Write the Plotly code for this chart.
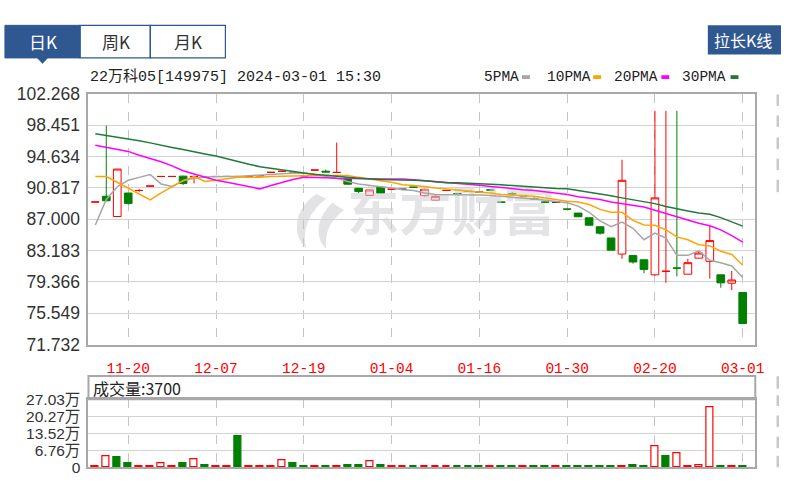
import plotly.graph_objects as go

# ---------------- data ----------------
tick_positions = [3, 11, 19, 27, 35, 43, 51, 59]
tick_labels = ["11-20", "12-07", "12-19", "01-04", "01-16", "01-30", "02-20", "03-01"]

opens = [89.1, 89.8, 87.33, 90.19, 90.5, 91.04, 92.21, 92.21, 92.25, 92.21,
         92.1, 92.21, 92.21, 92.21, 92.21, 92.3, 92.71, 92.83, 92.6, 92.3,
         92.99, 92.85, 92.7, 92.01, 90.77, 89.9, 90.89, 90.65, 90.65, 90.9,
         89.87, 89.32, 90.5, 90.1, 90.4, 90.3, 90.57, 89.08, 90.1, 89.9,
         89.5, 89.08, 89.08, 88.23, 87.75, 87.18, 86.09, 84.72, 82.76, 82.57,
         82.06, 80.23, 80.66, 81.05, 80.3, 82.26, 81.87, 80.23, 79.21, 78.08]
highs = [89.1, 98.4, 93.11, 90.2, 90.7, 91.04, 92.21, 92.21, 92.3, 92.21,
         92.1, 92.21, 92.21, 92.21, 92.21, 92.3, 92.71, 92.83, 92.6, 92.3,
         92.99, 93.05, 96.34, 92.1, 90.8, 90.6, 90.9, 90.65, 90.65, 90.9,
         90.7, 90.07, 90.5, 90.1, 90.4, 90.3, 90.57, 89.08, 90.3, 89.9,
         89.7, 89.08, 89.08, 88.23, 87.75, 87.18, 86.09, 84.72, 94.24, 82.57,
         82.06, 100.21, 100.21, 100.21, 82.18, 83.16, 86.16, 80.23, 80.7, 78.08]
lows = [89.1, 89.2, 87.33, 88.78, 90.35, 91.04, 92.21, 92.21, 91.16, 91.36,
        92.1, 92.21, 92.21, 92.21, 92.21, 92.3, 92.71, 92.83, 92.6, 92.3,
        92.99, 92.75, 92.7, 91.2, 90.2, 89.85, 90.1, 90.65, 90.65, 90.9,
        89.75, 89.3, 90.5, 90.1, 90.4, 90.3, 90.57, 89.08, 89.9, 89.85,
        89.45, 89.08, 89.08, 88.23, 87.3, 86.27, 85.1, 83.23, 82.18, 81.59,
        80.42, 80.11, 79.25, 80.03, 80.3, 82.26, 79.76, 78.66, 78.36, 74.3]
closes = [89.1, 89.25, 93.11, 88.93, 90.5, 91.04, 92.21, 92.21, 91.36, 92.21,
          92.1, 92.21, 92.21, 92.21, 92.21, 92.3, 92.71, 92.83, 92.6, 92.3,
          92.99, 92.75, 92.7, 91.27, 90.37, 90.57, 90.18, 90.65, 90.65, 90.9,
          90.65, 89.79, 90.5, 90.1, 90.4, 90.3, 90.57, 89.08, 90.1, 89.85,
          89.45, 89.08, 89.08, 88.23, 87.3, 86.27, 85.3, 83.23, 91.74, 81.79,
          80.89, 89.6, 80.66, 81.05, 81.71, 82.88, 84.4, 79.25, 79.6, 74.3]
candle_kind = ["r", "g", "r", "g", "r", "r", "r", "r", "g", "r",
               "g", "r", "k", "g", "r", "r", "r", "r", "r", "g",
               "r", "g", "r", "g", "g", "r", "g", "r", "k", "g",
               "r", "r", "r", "g", "g", "g", "g", "g", "g", "g",
               "g", "g", "k", "g", "g", "g", "g", "g", "r", "g",
               "g", "r", "r", "g", "r", "r", "r", "g", "r", "g"]

ma5 = [86.3, 89.4, 90.96, 91.74, 92.1, 92.45, 91.3, 91.0, 91.7, 92.0,
       92.13, 92.2, 92.2, 92.2, 92.3, 92.4, 92.5, 92.55, 92.6, 92.6,
       92.5, 92.2, 92.0, 91.6, 91.3, 91.1, 90.95, 90.8, 90.6, 90.5,
       90.2, 90.0, 90.0, 90.0, 90.0, 89.95, 89.9, 89.8, 89.7, 89.6,
       89.45, 89.3, 89.15, 89.0, 88.6, 87.85, 86.8, 86.1, 86.65, 85.9,
       84.5, 85.3, 84.7, 82.6, 82.6, 83.15, 82.0, 81.7, 81.3, 79.9]
ma10 = [92.2, 92.2, 91.5, 90.8, 90.1, 89.35, 90.2, 91.0, 91.7, 92.2,
        91.6, 91.75, 91.9, 92.1, 92.1, 92.1, 92.2, 92.25, 92.3, 92.33,
        92.33, 92.33, 92.33, 92.33, 92.1, 91.86, 91.7, 91.5, 91.2, 91.1,
        91.0, 90.8, 90.7, 90.55, 90.4, 90.3, 90.2, 90.0, 89.95, 89.85,
        89.8, 89.6, 89.4, 89.2, 89.1, 88.8, 88.2, 87.84, 87.84, 86.86,
        86.3, 86.27, 85.7, 84.85, 84.5, 83.9, 83.75, 83.1, 82.7, 81.4]
ma20 = [96.0, 95.75, 95.5, 95.26, 94.8, 94.4, 94.0, 93.5, 92.9, 92.5,
        92.1, 91.75, 91.5, 91.25, 91.0, 90.7, 91.1, 91.5, 91.85, 92.1,
        92.1, 92.05, 92.0, 91.95, 91.95, 91.94, 91.9, 91.9, 91.9, 91.8,
        91.7, 91.6, 91.5, 91.4, 91.3, 91.15, 91.0, 90.85, 90.7, 90.6,
        90.5, 90.35, 90.2, 90.0, 89.75, 89.6, 89.4, 89.1, 88.9, 88.7,
        88.5, 88.1, 87.7, 87.35, 86.9, 86.5, 86.2, 85.7, 85.0, 84.2]
ma30 = [97.4, 97.2, 97.0, 96.8, 96.55, 96.3, 96.0, 95.75, 95.5, 95.2,
        94.95, 94.7, 94.35, 94.0, 93.7, 93.4, 93.2, 93.0, 92.8, 92.6,
        92.45, 92.35, 92.2, 92.1, 92.0, 91.9, 91.85, 91.8, 91.8, 91.75,
        91.7, 91.6, 91.45, 91.45, 91.4, 91.35, 91.3, 91.2, 91.1, 91.0,
        90.9, 90.8, 90.75, 90.7, 90.5, 90.3, 90.1, 89.85, 89.6, 89.35,
        89.1, 88.9, 88.55, 88.25, 88.0, 87.75, 87.6, 87.2, 86.7, 86.16]

# volume in 万
volumes = [0.3, 4.46, 3.82, 1.66, 0.3, 0.3, 1.53, 0.3, 1.66, 3.18,
           1.0, 0.3, 0.3, 12.49, 0.3, 0.3, 0.3, 2.8, 1.66, 0.4,
           0.3, 0.3, 0.3, 1.0, 1.0, 2.29, 1.0, 0.3, 0.3, 0.3,
           0.3, 0.3, 0.3, 0.3, 0.3, 0.3, 0.3, 0.3, 0.3, 0.3,
           0.3, 0.3, 0.3, 0.3, 0.3, 0.3, 0.3, 0.3, 0.3, 1.0,
           0.3, 8.28, 4.2, 5.48, 0.3, 0.9, 23.7, 0.3, 0.3, 0.37]
volume_up = [1, 1, 0, 0, 1, 1, 1, 1, 0, 1,
             0, 1, 1, 0, 1, 1, 1, 1, 0, 0,
             1, 0, 1, 0, 0, 1, 0, 1, 1, 0,
             1, 1, 1, 0, 0, 0, 1, 0, 0, 1,
             0, 0, 1, 0, 0, 0, 0, 0, 1, 0,
             0, 1, 0, 1, 1, 1, 1, 0, 1, 0]

price_ticks = [71.732, 75.549, 79.366, 83.183, 87.000, 90.817, 94.634, 98.451, 102.268]
vol_ticks = [0, 6.76, 13.52, 20.27, 27.03]
vol_tick_labels = ["0", "6.76万", "13.52万", "20.27万", "27.03万"]

title_text = "22万科05[149975] 2024-03-01 15:30"
volume_text = "成交量:3700"
watermark_text = "东方财富"

# ---------------- styling ----------------
W, H = 788, 484
RED = "#ff0000"
GREEN = "#008000"
BLACK = "#333333"
MA_COLORS = {"5PMA": "#a6a6a6", "10PMA": "#ffa500", "20PMA": "#ff00ff", "30PMA": "#217a3c"}
BLUE = "#2f5891"
WM = "#e3e3e6"

def px(x):
    return x / W

def py(y):
    return 1 - y / H

LEFT, RIGHT = 89.5, 764.0
X0, DX = 96.4, 11.1
xr = [(LEFT - X0) / DX, (RIGHT - X0) / DX]

idx = list(range(len(opens)))

fig = go.Figure()

styles = {
    "r": dict(fill="white", line=RED),
    "g": dict(fill=GREEN, line=GREEN),
    "k": dict(fill=BLACK, line=BLACK),
}
for kind, st in styles.items():
    sel = [i for i in idx if candle_kind[i] == kind]
    fig.add_trace(go.Candlestick(
        x=[idx[i] for i in sel],
        open=[opens[i] for i in sel], high=[highs[i] for i in sel],
        low=[lows[i] for i in sel], close=[closes[i] for i in sel],
        increasing=dict(fillcolor=st["fill"], line=dict(color=st["line"], width=1)),
        decreasing=dict(fillcolor=st["fill"], line=dict(color=st["line"], width=1)),
        whiskerwidth=0, hoverinfo="skip", xaxis="x", yaxis="y",
    ))

# watermark text (decoration), below the MA lines
fig.add_trace(go.Scatter(
    x=[(456.5 - X0) / DX], y=[87.1], mode="text", text=[watermark_text],
    textfont=dict(family="Noto Sans CJK SC", size=52, color="rgba(205,205,212,0.55)", weight="bold"),
    hoverinfo="skip", xaxis="x", yaxis="y",
))

for name, vals in [("5PMA", ma5), ("10PMA", ma10), ("20PMA", ma20), ("30PMA", ma30)]:
    fig.add_trace(go.Scatter(x=idx, y=vals, mode="lines",
                             line=dict(color=MA_COLORS[name], width=1.5),
                             hoverinfo="skip", xaxis="x", yaxis="y"))

fig.add_trace(go.Bar(
    x=idx, y=volumes, width=0.62,
    marker=dict(color=["white" if u else GREEN for u in volume_up],
                line=dict(color=[RED if u else GREEN for u in volume_up], width=1.2)),
    hoverinfo="skip", xaxis="x2", yaxis="y2",
))

axis_line = dict(showline=True, mirror=True, linecolor="#a8a8a8", linewidth=2, zeroline=False)
tick_font = dict(family="Liberation Sans, Noto Sans CJK SC", size=17.5, color="#333333")
vol_font = dict(family="Liberation Sans, Noto Sans CJK SC", size=15.5, color="#333333")

fig.update_layout(
    width=W, height=H, margin=dict(l=0, r=0, t=0, b=0),
    paper_bgcolor="white", plot_bgcolor="rgba(0,0,0,0)",
    showlegend=False, boxgap=0.0, bargap=0,
    xaxis=dict(domain=[px(LEFT), px(RIGHT)], range=xr, anchor="y",
               tickmode="array", tickvals=tick_positions, ticktext=tick_labels,
               tickfont=dict(family="Liberation Mono", size=14.5, color=RED),
               showgrid=True, gridcolor="#c4c4c4", griddash="dash", gridwidth=1,
               ticks="", ticklabelstandoff=9, rangeslider=dict(visible=False),
               **axis_line),
    yaxis=dict(domain=[py(349), py(87.5)], range=[price_ticks[0], price_ticks[-1]], anchor="x",
               tickmode="array", tickvals=price_ticks, ticktext=["%.3f" % v for v in price_ticks],
               tickfont=tick_font, showgrid=True, gridcolor="#d2d2d2", gridwidth=1,
               ticks="", ticklabelstandoff=3, **axis_line),
    xaxis2=dict(domain=[px(LEFT), px(RIGHT)], range=xr, anchor="y2",
                tickmode="array", tickvals=tick_positions, showticklabels=False,
                showgrid=True, gridcolor="#c4c4c4", griddash="dash", gridwidth=1,
                ticks="", **axis_line),
    yaxis2=dict(domain=[py(477), py(406)], range=[0, 27.03], anchor="x2",
                tickmode="array", tickvals=vol_ticks, ticktext=vol_tick_labels,
                tickfont=vol_font, showgrid=True, gridcolor="#d2d2d2", gridwidth=1,
                ticks="", ticklabelstandoff=3, **axis_line),
)

shapes = []
annotations = []

def pth(points):
    s = "M %f %f" % (px(points[0][0]), py(points[0][1]))
    rest = points[1:]
    for k in range(0, len(rest), 3):
        a, b, c = rest[k], rest[k + 1], rest[k + 2]
        s += " C %f %f, %f %f, %f %f" % (px(a[0]), py(a[1]), px(b[0]), py(b[1]), px(c[0]), py(c[1]))
    return s + " Z"

shapes.append(dict(type="path", xref="paper", yref="paper", layer="below",
                   path=pth([(320, 192), (298, 207), (294, 233), (310, 249), (305, 231), (312, 211), (330, 197)]),
                   fillcolor=WM, line=dict(width=0)))
shapes.append(dict(type="path", xref="paper", yref="paper", layer="below",
                   path=pth([(336, 201), (320, 217), (318, 237), (330, 249), (328, 233), (334, 219), (348, 209)]),
                   fillcolor=WM, line=dict(width=0)))

shapes.append(dict(type="rect", xref="paper", yref="paper",
                   x0=px(LEFT), x1=px(RIGHT), y0=py(406), y1=py(381.7),
                   line=dict(color="#a8a8a8", width=2), fillcolor="rgba(0,0,0,0)"))
annotations.append(dict(text=volume_text, xref="paper", yref="paper", x=px(92), y=py(394),
                        xanchor="left", yanchor="middle", showarrow=False,
                        font=dict(family="Noto Sans CJK SC", size=16, color="#222222")))

shapes.append(dict(type="rect", xref="paper", yref="paper", x0=px(5), x1=px(81), y0=py(50), y1=py(16),
                   fillcolor=BLUE, line=dict(color=BLUE, width=1)))
shapes.append(dict(type="path", xref="paper", yref="paper",
                   path="M %f %f L %f %f L %f %f Z" % (px(37), py(49.5), px(49), py(49.5), px(43), py(56)),
                   fillcolor=BLUE, line=dict(width=0)))
for x0, x1 in [(81, 152), (152, 228)]:
    shapes.append(dict(type="rect", xref="paper", yref="paper", x0=px(x0), x1=px(x1), y0=py(50), y1=py(16),
                       fillcolor="rgba(0,0,0,0)", line=dict(color=BLUE, width=1.2)))
for txt, cx, col in [("日K", 43, "white"), ("周K", 117, "#333333"), ("月K", 190, "#333333")]:
    annotations.append(dict(text=txt, xref="paper", yref="paper", x=px(cx), y=py(33),
                            xanchor="center", yanchor="middle", showarrow=False,
                            font=dict(family="Noto Sans CJK SC", size=17, color=col)))

shapes.append(dict(type="rect", xref="paper", yref="paper", x0=px(716), x1=px(790), y0=py(46.5), y1=py(16),
                   fillcolor=BLUE, line=dict(width=0)))
annotations.append(dict(text="拉长K线", xref="paper", yref="paper", x=px(752), y=py(31),
                        xanchor="center", yanchor="middle", showarrow=False,
                        font=dict(family="Noto Sans CJK SC", size=16, color="white")))

for y0, y1 in [(88, 100), (110, 122), (133, 145), (155, 167), (177, 190),
               (382, 395), (402, 413), (423, 435), (445, 457), (465, 477)]:
    shapes.append(dict(type="rect", xref="paper", yref="paper", x0=px(785.5), x1=px(788), y0=py(y1), y1=py(y0),
                       fillcolor="#c8c8c8", line=dict(width=0)))

annotations.append(dict(text=title_text, xref="paper", yref="paper", x=px(89), y=py(70),
                        xanchor="left", yanchor="middle", showarrow=False,
                        font=dict(family="Liberation Mono, Noto Sans CJK SC", size=15, color="#222222")))

leg = [("5PMA", 488, 528), ("10PMA", 551, 600), ("20PMA", 619, 669), ("30PMA", 688, 739)]
for name, tx, sx in leg:
    annotations.append(dict(text=name, xref="paper", yref="paper", x=px(tx), y=py(70),
                            xanchor="left", yanchor="middle", showarrow=False,
                            font=dict(family="Liberation Mono", size=14.5, color="#222222")))
    shapes.append(dict(type="rect", xref="paper", yref="paper", x0=px(sx), x1=px(sx + 8),
                       y0=py(72), y1=py(68), fillcolor=MA_COLORS[name], line=dict(width=0)))

fig.update_layout(shapes=shapes, annotations=annotations)

fig.write_html("out.html", config={"displayModeBar": False},
               post_script="document.body.style.margin='0';")
